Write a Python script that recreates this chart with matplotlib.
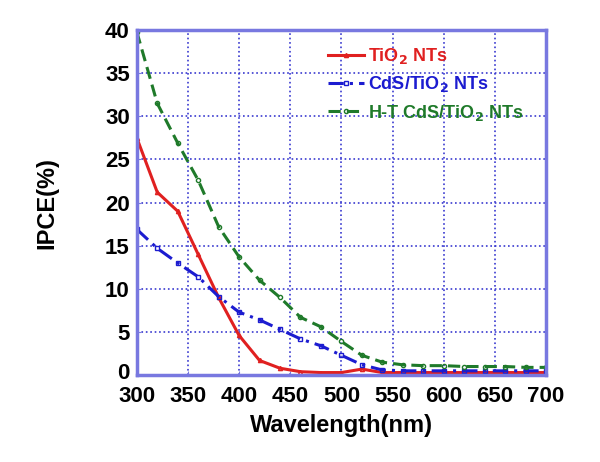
import matplotlib.pyplot as plt
import matplotlib.transforms as mtransforms

plt.rcParams['font.family'] = ['Liberation Sans', 'DejaVu Sans']
plt.rcParams['font.weight'] = 'bold'

wl = [300, 320, 340, 360, 380, 400, 420, 440, 460, 480, 500,
      520, 540, 560, 580, 600, 620, 640, 660, 680, 700]
tio2 = [27.5, 21.2, 19.0, 14.0, 9.0, 4.6, 1.7, 0.8, 0.4, 0.3, 0.3,
        0.7, 0.3, 0.3, 0.3, 0.3, 0.3, 0.3, 0.3, 0.3, 0.3]
cds = [16.9, 14.7, 13.0, 11.4, 9.1, 7.3, 6.4, 5.3, 4.2, 3.4, 2.3,
       1.2, 0.6, 0.5, 0.5, 0.5, 0.5, 0.5, 0.5, 0.5, 0.5]
ht = [39.8, 31.5, 26.9, 22.6, 17.2, 13.7, 11.0, 9.0, 6.7, 5.6, 3.9,
      2.3, 1.5, 1.2, 1.1, 1.1, 1.0, 1.0, 1.0, 0.9, 0.9]

fig = plt.figure(figsize=(6, 4.62), dpi=100)
ax = fig.add_axes([0.228, 0.188, 0.682, 0.747])

ax.plot(wl, tio2, color='#e02020', ls='-', lw=2.2, marker='^', ms=3,
        mfc='none', label='TiO$_2$ NTs')
ax.plot(wl, cds, color='#1c1cd0', ls=(0, (5, 2, 1, 2)), lw=2.2, marker='s', ms=3,
        mfc='none', label='CdS/TiO$_2$ NTs')
ax.plot(wl, ht, color='#1f7a2a', ls=(0, (4, 2)), lw=2.2, marker='o', ms=3,
        mfc='none', label='H-T CdS/TiO$_2$ NTs')

ax.set_xlim(300, 700)
ax.set_ylim(0, 40)
ax.set_xticks(range(300, 701, 50))
ax.set_yticks(range(0, 41, 5))
ax.grid(True, color='#3a3ad0', ls=':', lw=1.2)
for s in ax.spines.values():
    s.set_color('#7878e0')
    s.set_linewidth(2.5)
ax.tick_params(direction='in', length=3, color='#7878e0', labelsize=16)
ax.tick_params(axis='x', pad=8)
ax.tick_params(axis='y', pad=5)
for lab in ax.get_xticklabels() + ax.get_yticklabels():
    lab.set_fontweight('heavy')

# lift the "0" label a little so it clears "300"
zero = ax.get_yticklabels()[0]
zero.set_transform(zero.get_transform() +
                   mtransforms.ScaledTranslation(0, 3 / 72, fig.dpi_scale_trans))

ax.set_xlabel('Wavelength(nm)', fontsize=17, fontweight='heavy', labelpad=5)
ax.set_ylabel('IPCE(%)', fontsize=17, fontweight='heavy', labelpad=34)

leg = ax.legend(loc='upper right', bbox_to_anchor=(0.985, 1.0), frameon=False,
                fontsize=13, handlelength=2.0, handletextpad=0.2, labelspacing=0.45)
for txt, line in zip(leg.get_texts(), leg.get_lines()):
    txt.set_color(line.get_color())
    txt.set_fontweight('bold')

fig.savefig('out.png', dpi=100)
